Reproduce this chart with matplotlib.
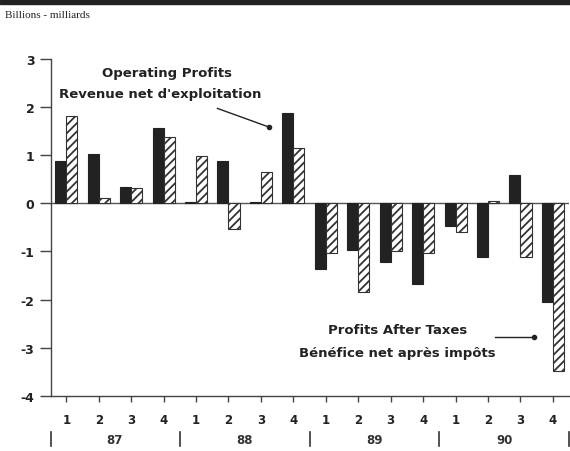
import matplotlib
matplotlib.use("Agg")
import matplotlib.pyplot as plt
import matplotlib.transforms as mtransforms
import numpy as np

quarters = ["1", "2", "3", "4"] * 4
years = ["87", "88", "89", "90"]
operating = [0.87, 1.02, 0.33, 1.57, 0.02, 0.88, 0.02, 1.87,
             -1.37, -0.96, -1.22, -1.67, -0.48, -1.12, 0.58, -2.05]
after_tax = [1.81, 0.10, 0.31, 1.38, 0.98, -0.53, 0.64, 1.14,
             -1.04, -1.84, -0.98, -1.04, -0.59, 0.04, -1.12, -3.48]
yticks = [3, 2, 1, 0, -1, -2, -3, -4]

plt.rcParams['hatch.linewidth'] = 1.3
plt.rcParams['hatch.color'] = '#444444'

fig = plt.figure(figsize=(5.7, 4.52), dpi=100)
fig.patch.set_facecolor('white')

# top dark band
fig.add_artist(plt.Rectangle((0, 0.99), 1, 0.01, transform=fig.transFigure,
                             color='#222222', zorder=0))
fig.text(0.008, 0.966, "Billions - milliards", family='Liberation Serif',
         fontsize=8, color='#222222', va='center', ha='left')

ax = fig.add_axes([0.0895, 0.1217, 0.909, 0.746])
x = np.arange(len(quarters))
w = 0.34
ax.bar(x - w / 2, operating, width=w, color='#222222', edgecolor='#222222',
       linewidth=0.8, zorder=3)
ax.bar(x + w / 2, after_tax, width=w, color='white', edgecolor='#333333',
       hatch='////', linewidth=0.8, zorder=3)

ax.set_xlim(-0.47, 15.5)
ax.set_ylim(-4, 3)
ax.axhline(0, color='#555555', linewidth=1.0, zorder=2)

for s in ['top', 'right']:
    ax.spines[s].set_visible(False)
ax.spines['left'].set_color('#444444')
ax.spines['bottom'].set_color('#444444')
ax.spines['left'].set_linewidth(1.0)
ax.spines['bottom'].set_linewidth(1.0)

ax.set_yticks(yticks)
ax.set_yticklabels([str(v) for v in yticks], fontweight='bold', fontsize=9,
                   color='#222222')
ax.tick_params(axis='y', length=8, width=1, color='#444444', pad=4)
ax.set_xticks(x)
ax.set_xticklabels(quarters, fontweight='bold', fontsize=8.5, color='#222222')
ax.tick_params(axis='x', length=4, width=1, color='#444444', pad=8)

# year row
trans = mtransforms.blended_transform_factory(ax.transData, ax.transAxes)
for b in [-0.47, 3.5, 7.5, 11.5, 15.5]:
    ax.plot([b, b], [-0.108, -0.148], transform=trans, color='#333333',
            linewidth=1.2, clip_on=False)
for i, yr in enumerate(years):
    ax.text(4 * i + 1.5, -0.128, yr, transform=trans, ha='center', va='center',
            fontweight='bold', fontsize=8.5, color='#333333')

# annotations
ax.text(3.1, 2.72, "Operating Profits", ha='center', va='center',
        fontweight='bold', fontsize=9.5, color='#222222')
ax.text(2.9, 2.28, "Revenue net d'exploitation", ha='center', va='center',
        fontweight='bold', fontsize=9.5, color='#222222')
ax.plot([4.66, 6.26], [1.97, 1.58], color='#222222', linewidth=1.0)
ax.plot([6.26], [1.58], 'o', color='#222222', markersize=3)

ax.text(10.2, -2.63, "Profits After Taxes", ha='center', va='center',
        fontweight='bold', fontsize=9.5, color='#222222')
ax.text(10.2, -3.09, "Bénéfice net après impôts", ha='center', va='center',
        fontweight='bold', fontsize=9.5, color='#222222')
ax.plot([13.2, 14.42], [-2.78, -2.78], color='#222222', linewidth=1.0)
ax.plot([14.42], [-2.78], 'o', color='#222222', markersize=3)

fig.savefig("out.png", dpi=100, facecolor='white')
